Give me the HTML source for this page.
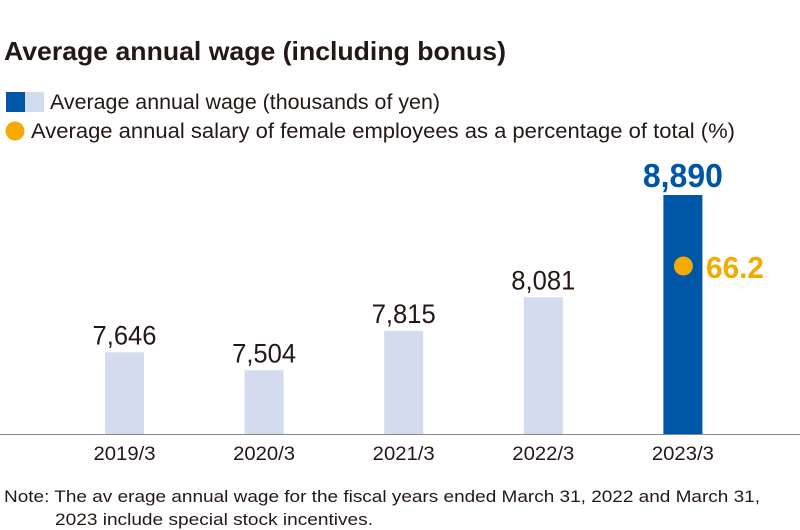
<!DOCTYPE html>
<html><head><meta charset="utf-8"><style>
html,body{margin:0;padding:0;background:#fff;}
svg{display:block;font-family:"Liberation Sans",sans-serif;}
</style></head><body>
<svg id="chart" width="800" height="530" viewBox="0 0 800 530">
<text x="4" y="60" font-size="26" font-weight="bold" fill="#231815" textLength="502" lengthAdjust="spacingAndGlyphs">Average annual wage (including bonus)</text>
<g>
<rect x="6" y="92" width="19" height="20" fill="#0056a6"/>
<rect x="25" y="92" width="19" height="20" fill="#d3dbee"/>
<text x="50" y="109" font-size="21" fill="#231815" textLength="390" lengthAdjust="spacingAndGlyphs">Average annual wage (thousands of yen)</text>
<circle cx="15" cy="131" r="9.5" fill="#f4aa00"/>
<text x="31" y="138" font-size="21" fill="#231815" textLength="704" lengthAdjust="spacingAndGlyphs">Average annual salary of female employees as a percentage of total (%)</text>
</g>
<g id="bars"></g>
<line x1="0" y1="434.5" x2="800" y2="434.5" stroke="#888" stroke-width="1"/>
<text x="4" y="502" font-size="17" fill="#231815" textLength="756" lengthAdjust="spacingAndGlyphs">Note:  The av erage annual wage for the fiscal years ended March 31, 2022 and March 31,</text>
<text x="55" y="525" font-size="17" fill="#231815" textLength="318" lengthAdjust="spacingAndGlyphs">2023 include special stock incentives.</text>
</svg>
<script>
const categories = ["2019/3","2020/3","2021/3","2022/3","2023/3"];
const wageValues = [7646,7504,7815,8081,8890];
const wageLabels = ["7,646","7,504","7,815","8,081","8,890"];
const femaleRatio = 66.2;
const ratioLabel = "66.2";

const NS = "http://www.w3.org/2000/svg";
const g = document.getElementById("bars");
const baseY = 434, yMin = 7000, pxPer = 239/1890;
const yScale = v => baseY - (v - yMin) * pxPer;
const xCenter = i => 124.5 + i * 139.6;
const barW = 39;
function mk(tag, attrs){const e=document.createElementNS(NS,tag);for(const k in attrs)e.setAttribute(k,attrs[k]);return e;}
categories.forEach((c,i)=>{
  const last = i === categories.length-1;
  const y = yScale(wageValues[i]);
  const r = mk("rect",{x:xCenter(i)-barW/2,y:y,width:barW,height:baseY-y,fill:last?"#0056a6":"#d3dbee"});
  
  
  g.appendChild(r);
  const t = mk("text",{x:xCenter(i),y:y-8,"text-anchor":"middle","font-size":last?33:27,"font-weight":last?"bold":"normal",fill:last?"#0056a6":"#231815",textLength:last?80:64,lengthAdjust:"spacingAndGlyphs"});
  t.textContent = wageLabels[i];
  
  
  g.appendChild(t);
  const xl = mk("text",{x:xCenter(i),y:460,"text-anchor":"middle","font-size":19,fill:"#231815",textLength:62,lengthAdjust:"spacingAndGlyphs"});
  xl.textContent = c;
  
  
  g.appendChild(xl);
});
const li = categories.length-1;
const dot = mk("circle",{cx:xCenter(li)+0.5,cy:266,r:9.5,fill:"#f4aa00"});


g.appendChild(dot);
const dl = mk("text",{x:706,y:278,"font-size":31,"font-weight":"bold",fill:"#f4aa00",textLength:58,lengthAdjust:"spacingAndGlyphs"});
dl.textContent = ratioLabel;


g.appendChild(dl);
</script>
</body></html>
